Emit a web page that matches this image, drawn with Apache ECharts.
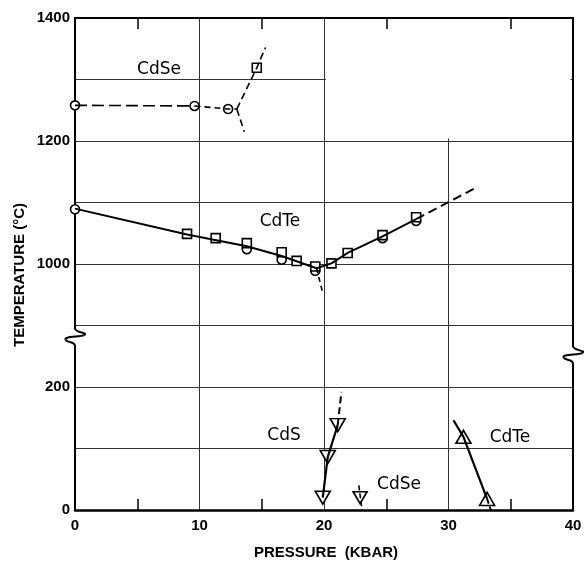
<!DOCTYPE html>
<html><head><meta charset="utf-8">
<script src="https://cdn.jsdelivr.net/npm/echarts@6/dist/echarts.min.js"></script>
<style>html,body{margin:0;padding:0;background:#fff}#c{width:585px;height:565px}</style>
</head><body><div id="c"></div>
<script>
// ---- axis / tick data ----
const xTicks = [0, 10, 20, 30, 40];
const yTickLabels = {0: '0', 200: '200', 400: '1000', 600: '1200', 800: '1400'};
const BREAK_SHIFT = 600;            // temperatures above the axis break are shifted by 600 °C on the axis

// ---- DTA : CdSe melting ----
const cdseMoCircles = [[0, 1258], [9.6, 1257], [12.3, 1252]];
const cdseTaSquares = [[14.6, 1319]];
const cdseMeltLineA = [[0, 1258], [9.6, 1257]];
const cdseMeltLineB = [[9.6, 1257], [12.3, 1252], [13.0, 1252]];
const cdseBranchUp = [[13.0, 1252], [14.6, 1319], [15.3, 1352]];
const cdseBranchDown = [[13.0, 1252], [13.6, 1215]];

// ---- DTA : CdTe melting ----
const cdteMoCircles = [[0, 1089], [13.8, 1024], [16.6, 1007], [19.3, 989], [24.7, 1042], [27.4, 1070]];
const cdteTaSquares = [[9.0, 1049], [11.3, 1042], [13.8, 1034], [16.6, 1019], [17.8, 1005], [19.3, 996],
                       [20.6, 1001], [21.9, 1018], [24.7, 1047], [27.4, 1076]];
const cdteMeltLine = [[0, 1090], [9.0, 1048], [13.8, 1029], [16.6, 1013], [19.4, 993], [20.6, 1001],
                      [21.9, 1018], [24.7, 1045], [27.4, 1073]];
const cdteMeltExt = [[27.4, 1073], [32.1, 1123]];
const cdteMeltDown = [[19.4, 993], [19.9, 953]];

// ---- Volume : transitions ----
const cdsTriangles = [[19.9, 20], [20.3, 86], [21.1, 138]];
const cdsLine = [[19.9, 20], [20.3, 86], [21.1, 138]];
const cdsLineExt = [[21.1, 138], [21.4, 192]];
const cdseVolTriangles = [[22.9, 20]];
const cdseVolLine = [[22.8, 40], [23.05, 0]];
const cdteVolTriangles = [[31.2, 119], [33.1, 18]];
const cdteVolLine = [[30.4, 146], [31.2, 119], [33.1, 18]];
const cdteVolLineExt = [[33.1, 18], [33.4, 0]];

const legendBlank = [[20.15, 1204], [39.8, 1399]];
const breakPos = [[0, 281], [40, 252]];   // axis-break symbol anchors (axis positions)

// map a temperature to the broken axis position
function pos(T) { return T >= 800 ? T - BREAK_SHIFT : T; }
function P(arr) { return arr.map(d => [d[0], pos(d[1])]); }

const chart = echarts.init(document.getElementById('c'), null, {renderer: 'canvas'});
const FONT = 'Liberation Sans';
const blk = '#000';

function lineS(data, dash, w) {
  return {type: 'line', data: P(data), symbol: 'none', silent: true, animation: false,
    lineStyle: {color: blk, width: w || 2, type: dash || 'solid'}};
}
function symS(data, symbol, size, rot) {
  return {type: 'scatter', data: P(data), symbol: symbol, symbolSize: size, symbolRotate: rot || 0,
    silent: true, animation: false,
    itemStyle: {color: '#fff', borderColor: blk, borderWidth: 1.6, opacity: 1}};
}
function txt(x, y, text, font, align) {
  return {type: 'text', x: x, y: y, style: {text: text, font: font, fill: blk,
    textAlign: align || 'center', textVerticalAlign: 'middle'}};
}
function bz(x1, y1, cx, cy, x2, y2) {
  return {type: 'bezierCurve', shape: {x1: x1, y1: y1, cpx1: cx, cpy1: cy, x2: x2, y2: y2},
    style: {stroke: blk, fill: null, lineWidth: 1.3}};
}
function ln(x1, y1, x2, y2) {
  return {type: 'line', shape: {x1: x1, y1: y1, x2: x2, y2: y2}, style: {stroke: blk, lineWidth: 1.3}};
}

const option = {
  backgroundColor: '#fff',
  animation: false,
  grid: {left: 75, right: 12, top: 18, bottom: 55},
  xAxis: [{
    type: 'value', min: 0, max: 40, interval: 10, position: 'bottom', z: 0,
    axisLine: {onZero: false, lineStyle: {color: blk, width: 2.5}},
    axisTick: {show: false, inside: true},
    minorTick: {show: true, splitNumber: 2, length: 11, lineStyle: {color: blk, width: 1.5}},
    axisLabel: {color: blk, fontFamily: FONT, fontWeight: 'bold', fontSize: 15, margin: 8,
      formatter: v => xTicks.includes(v) ? String(v) : ''},
    splitLine: {show: true, lineStyle: {color: '#333', width: 1}}
  }, {
    type: 'value', min: 0, max: 40, interval: 10, position: 'top', z: 5,
    axisLine: {onZero: false, lineStyle: {color: blk, width: 2}},
    axisTick: {show: false, inside: true},
    minorTick: {show: true, splitNumber: 2, length: 11, lineStyle: {color: blk, width: 1.5}},
    axisLabel: {show: false}, splitLine: {show: false}
  }],
  yAxis: [{
    type: 'value', min: 0, max: 800, interval: 100, position: 'left', z: 0,
    axisLine: {show: true, onZero: false, lineStyle: {color: blk, width: 2}},
    axisTick: {show: false},
    axisLabel: {color: blk, fontFamily: FONT, fontWeight: 'bold', fontSize: 15, margin: 5,
      formatter: v => (yTickLabels[v] !== undefined ? yTickLabels[v] : '')},
    splitLine: {show: true, lineStyle: {color: '#333', width: 1}}
  }, {
    type: 'value', min: 0, max: 800, interval: 100, position: 'right', z: 5,
    axisLine: {show: true, onZero: false, lineStyle: {color: blk, width: 2}},
    axisTick: {show: false}, axisLabel: {show: false}, splitLine: {show: false}
  }],
  series: [
    {type: 'custom', z: 1, silent: true, clip: false, data: [0],
      renderItem: (p, api) => {
        const a = api.coord([legendBlank[0][0], pos(legendBlank[0][1])]);
        const b = api.coord([legendBlank[1][0], pos(legendBlank[1][1])]);
        return {type: 'rect', shape: {x: a[0], y: b[1], width: b[0] - a[0], height: a[1] - b[1]},
          style: {fill: '#fff'}};
      }},
    lineS(cdseMeltLineA, [12, 5], 1.6),
    lineS(cdseMeltLineB, [6, 4], 1.6),
    lineS(cdseBranchUp, [7, 4], 1.6),
    lineS(cdseBranchDown, [7, 4], 1.6),
    lineS(cdteMeltLine, null, 2),
    lineS(cdteMeltExt, [9, 5], 2),
    lineS(cdteMeltDown, [5, 4], 1.6),
    lineS(cdsLine, null, 2.2),
    lineS(cdsLineExt, [7, 4], 2),
    lineS(cdseVolLine, [5, 3], 1.6),
    lineS(cdteVolLine, null, 2.2),
    lineS(cdteVolLineExt, [5, 3], 2),
    symS(cdseMoCircles, 'circle', 9),
    symS(cdseTaSquares, 'rect', 9),
    symS(cdteMoCircles, 'circle', 9),
    symS(cdteTaSquares, 'rect', 9),
    symS(cdsTriangles, 'triangle', [15, 13], 180),
    symS(cdseVolTriangles, 'triangle', [14, 12], 180),
    symS(cdteVolTriangles, 'triangle', [15, 13], 0),
    {type: 'custom', z: 6, silent: true, clip: false, data: breakPos.map((d, i) => i),
      renderItem: (p, api) => {
        const d = breakPos[p.dataIndex];
        const c = api.coord(d);
        const cx = c[0], cy = c[1];
        const st = {stroke: blk, fill: null, lineWidth: 2};
        return {type: 'group', children: [
          {type: 'line', shape: {x1: cx, y1: cy - 8, x2: cx, y2: cy + 8}, style: {stroke: '#fff', lineWidth: 5}},
          {type: 'bezierCurve', shape: {x1: cx, y1: cy - 9, cpx1: cx, cpy1: cy - 4, cpx2: cx + 14, cpy2: cy - 5, x2: cx + 9, y2: cy - 2}, style: st},
          {type: 'bezierCurve', shape: {x1: cx + 9, y1: cy - 2, cpx1: cx + 5, cpy1: cy, cpx2: cx - 13, cpy2: cy - 1, x2: cx - 9, y2: cy + 3}, style: st},
          {type: 'bezierCurve', shape: {x1: cx - 9, y1: cy + 3, cpx1: cx - 6, cpy1: cy + 6, cpx2: cx, cpy2: cy + 4, x2: cx, y2: cy + 9}, style: st}
        ]};
      }}
  ],
  graphic: [
    Object.assign(txt(20, 275, 'TEMPERATURE (°C)', 'bold 15px ' + FONT), {rotation: Math.PI / 2}),
    txt(326, 553, 'PRESSURE  (KBAR)', 'bold 15px ' + FONT),
    // phase labels
    txt(159, 70, 'CdSe', '17px DejaVu Sans'),
    txt(280, 222, 'CdTe', '17px DejaVu Sans'),
    txt(284, 436, 'CdS', '17px DejaVu Sans'),
    txt(399, 485, 'CdSe', '17px DejaVu Sans'),
    txt(510, 438, 'CdTe', '17px DejaVu Sans'),
    // legend
    {type: 'polygon', shape: {points: [[368, 76], [375, 65], [382, 76]]}, style: {fill: null, stroke: blk, lineWidth: 1.8}},
    txt(397, 72, 'VOLUME', '14px DejaVu Sans', 'left'),
    {type: 'circle', shape: {cx: 376, cy: 93, r: 3.5}, style: {fill: null, stroke: blk, lineWidth: 1.6}},
    txt(397, 95, 'Mo CONTAINER', '14px DejaVu Sans', 'left'),
    {type: 'rect', shape: {x: 372.5, y: 115.5, width: 7, height: 7}, style: {fill: null, stroke: blk, lineWidth: 1.6}},
    txt(397, 120, 'Ta CONTAINER', '14px DejaVu Sans', 'left'),
    txt(354, 106, 'DTA', '14px DejaVu Sans', 'right'),
    bz(366, 88, 360, 88, 360, 95), ln(360, 95, 360, 101), bz(360, 101, 360, 105, 355, 105.5),
    bz(355, 105.5, 360, 106, 360, 110), ln(360, 110, 360, 116), bz(360, 116, 360, 123, 366, 123)
  ]
};
chart.setOption(option);
</script>
</body></html>
